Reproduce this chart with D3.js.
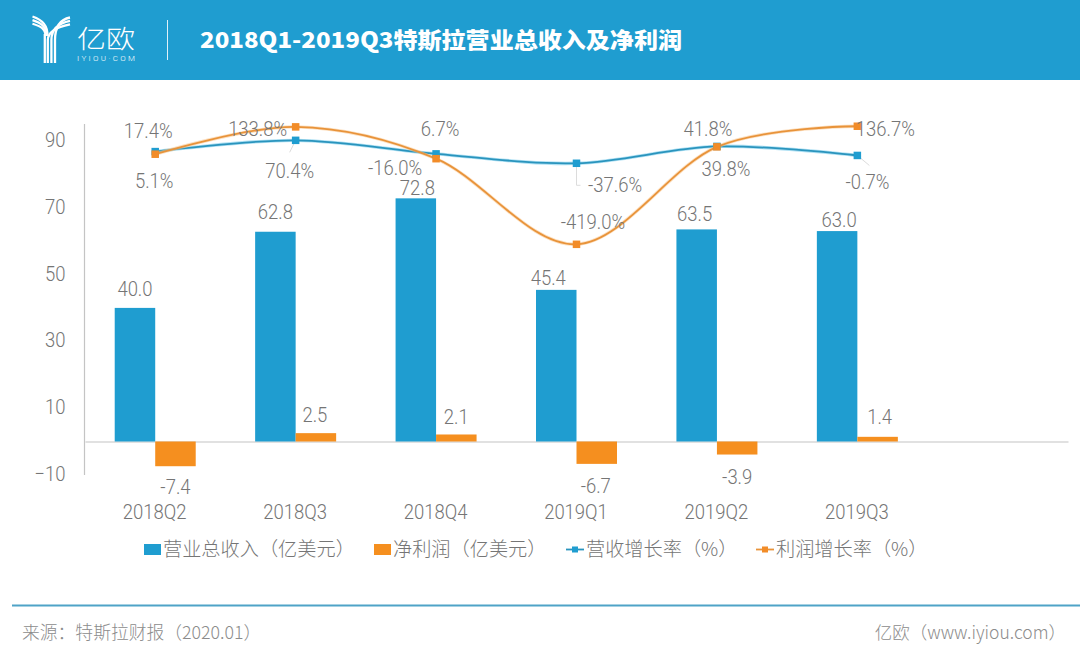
<!DOCTYPE html>
<html><head><meta charset="utf-8">
<script src="https://cdn.jsdelivr.net/npm/d3@7/dist/d3.min.js"></script>
<style>
html,body{margin:0;padding:0;background:#fff}
svg{display:block}
text{font-family:"Noto Sans CJK SC",sans-serif}
.cjk{font-family:"Noto Sans CJK SC",sans-serif;font-weight:300}
.num{font-family:Roboto,sans-serif;font-weight:300}
</style></head><body>
<svg id="c" width="1080" height="658"></svg>
<script>
const categories=["2018Q2","2018Q3","2018Q4","2019Q1","2019Q2","2019Q3"];
const revenue=[40.0,62.8,72.8,45.4,63.5,63.0];
const netProfit=[-7.4,2.5,2.1,-6.7,-3.9,1.4];
const revenueGrowth=[17.4,70.4,6.7,-37.6,41.8,-0.7];
const profitGrowth=[5.1,133.8,-16.0,-419.0,39.8,136.7];
const yTicks=[-10,10,30,50,70,90];
const seriesNames=["营业总收入（亿美元）","净利润（亿美元）","营收增长率（%）","利润增长率（%）"];
const titleText="2018Q1-2019Q3特斯拉营业总收入及净利润";
const sourceText="来源：特斯拉财报（2020.01）";
const creditText="亿欧（www.iyiou.com）";

const BLUE="#1f9dd0",ORANGE="#f58f1f",LINE_BLUE="#2a94bd",LINE_OR="#e8933a",GREY="#757575";
const svg=d3.select("#c");

// header
svg.append("rect").attr("width",1080).attr("height",80).attr("fill","#1f9dd0");
const logo=svg.append("g").attr("fill","none").attr("stroke","#fff").attr("stroke-width",2.3);
[0,1,2].forEach(k=>{
  const stemR=55-k*3.6, stemL=45.5+(2-k)*0.4;
  logo.append("path").attr("d",`M70 ${17.5+k*3.4} C${60-k} ${19.5+k*3.6} ${stemR} ${27+k*2} ${stemR} 40 L${stemR} 63`);
  logo.append("path").attr("d",`M32.5 ${16.5+k*3.6} C40 ${19+k*3.6} ${stemL+2-k} ${24+k*2} ${stemL+1-k*0.5} ${36}`);
});
logo.append("path").attr("d","M44.8 34 L44.8 63");
svg.append("text").attr("x",77).attr("y",48).attr("fill","#fff").attr("class","cjk").attr("font-size",25).attr("font-weight",100)
  .attr("textLength",58).attr("lengthAdjust","spacingAndGlyphs").text("亿欧");
svg.append("text").attr("x",77).attr("y",60.5).attr("fill","#fff").attr("class","num").attr("font-size",8).attr("textLength",58).text("IYIOU·COM");
svg.append("line").attr("x1",167.5).attr("x2",167.5).attr("y1",20).attr("y2",60).attr("stroke","#dff1f9").attr("stroke-width",1);
svg.append("text").attr("x",200).attr("y",48).attr("fill","#fff").attr("font-size",22).attr("font-weight",900)
  .attr("textLength",482).attr("lengthAdjust","spacingAndGlyphs").text(titleText);

// scales
const x=d3.scaleBand().domain([...categories,""]).range([85,1068]);
const y=d3.scaleLinear().domain([-10,90]).range([474.9,140.9]);
const y2=d3.scaleLinear().domain([-1500,200]).range([474,112.8]);
const bw=40.5;
const cx=c=>x(c)+x.bandwidth()/2;
const squeeze=.88, numSize=21;
const place=(sel,fx,fy)=>sel.attr("x",null).attr("y",null).attr("dy",null).attr("font-size",numSize)
  .attr("transform",(d,i)=>`translate(${fx(d,i)},${fy(d,i)}) scale(${squeeze},1)`);

// axes
const xg=svg.append("g").attr("transform",`translate(0,${y(0)})`).call(d3.axisBottom(x).tickSize(0).tickValues(categories));
xg.select(".domain").attr("stroke","#c4c4c4").attr("stroke-width",1.2);
xg.selectAll("g.tick").attr("transform",null);
place(xg.selectAll("text").attr("class","num").attr("fill",GREY).attr("text-anchor","middle"),d=>cx(d)-.5,()=>519-y(0));
const yg=svg.append("g").attr("transform","translate(85,0)").call(d3.axisLeft(y).tickValues(yTicks).tickSize(0));
yg.select(".domain").remove();
yg.selectAll("g.tick").attr("transform",null);
place(yg.selectAll("text").attr("class","num").attr("fill",GREY).attr("text-anchor","end"),()=>-19.5,d=>y(d)+6);
svg.append("line").attr("x1",84.5).attr("x2",84.5).attr("y1",124).attr("y2",y(-10)).attr("stroke","#c4c4c4").attr("stroke-width",1.2);

// bars
svg.append("g").selectAll("rect").data(categories).join("rect")
  .attr("x",c=>cx(c)-bw).attr("width",bw)
  .attr("y",(c,i)=>y(revenue[i])).attr("height",(c,i)=>y(0)-y(revenue[i])).attr("fill",BLUE);
svg.append("g").selectAll("rect").data(categories).join("rect")
  .attr("x",c=>cx(c)).attr("width",bw)
  .attr("y",(c,i)=>Math.min(y(0),y(netProfit[i]))).attr("height",(c,i)=>Math.abs(y(0)-y(netProfit[i]))).attr("fill",ORANGE);

// label offsets relative to marks
const revLabelDx=[0,0,1.5,-8,-2,2], revLabelDy=[-12,-13,-3,-5,-8,-4];
const npLabelDx=[0,-1,0,-1,0,2], npLabelDy=[28,-11,-10,29,29,-13];
const rgLabelDx=[-7,-6,4,38.5,-9,10], rgLabelDy=[-13.6,37.7,-18,28.7,-10.4,33.6];
const pgLabelDx=[-1,-38,-41,16.5,9,28], pgLabelDy=[34,9,16,-15,29,10];
const leaderTo=[null,[-6,12],null,[4,22],null,[12,10]];

function labels(arr,fx,fy,dx,dy,fmt){
  place(svg.append("g").selectAll("text").data(arr).join("text")
    .attr("class","num").attr("fill",GREY).attr("text-anchor","middle").text(fmt),
    (d,i)=>fx(i)+dx[i],(d,i)=>fy(d)+dy[i]);
}
labels(revenue,i=>cx(categories[i])-bw/2,y,revLabelDx,revLabelDy,d=>d.toFixed(1));
labels(netProfit,i=>cx(categories[i])+bw/2,y,npLabelDx,npLabelDy,d=>d.toFixed(1));

// leader lines
svg.append("g").selectAll("path").data(revenueGrowth).join("path")
  .attr("fill","none").attr("stroke","#dcdcdc").attr("stroke-width",1)
  .attr("d",(d,i)=>{const l=leaderTo[i];if(!l)return null;const a=cx(categories[i]),b=y2(d);
    return i===3?`M${a} ${b}V${b+l[1]}H${a+l[0]}`:`M${a} ${b}L${a+l[0]} ${b+l[1]}`;});

// lines
const line=d3.line().curve(d3.curveCardinal.tension(0)).x((d,i)=>cx(categories[i])).y(d=>y2(d));
function series(arr,col,halo){
  svg.append("path").attr("d",line(arr)).attr("fill","none").attr("stroke",halo).attr("stroke-width",3.4).attr("opacity",.55);
  svg.append("path").attr("d",line(arr)).attr("fill","none").attr("stroke",col).attr("stroke-width",1.8);
}
function markers(arr,col){
  svg.append("g").selectAll("rect").data(arr).join("rect").attr("width",7.5).attr("height",7.5)
    .attr("x",(d,i)=>cx(categories[i])-3.75).attr("y",d=>y2(d)-3.75).attr("fill",col);
}
series(revenueGrowth,LINE_BLUE,"#6cc7ea");
series(profitGrowth,LINE_OR,"#f9c48a");
markers(revenueGrowth,BLUE);
markers(profitGrowth,"#f28c28");
labels(revenueGrowth,i=>cx(categories[i]),y2,rgLabelDx,rgLabelDy,d=>d.toFixed(1)+"%");
labels(profitGrowth,i=>cx(categories[i]),y2,pgLabelDx,pgLabelDy,d=>d.toFixed(1)+"%");

// legend
const legX=[144,374,566,756];
const legG=svg.append("g");
seriesNames.forEach((n,i)=>{
  const lx=legX[i], ly=549.5;
  if(i<2){
    legG.append("rect").attr("x",lx).attr("y",ly-5.5).attr("width",17).attr("height",11).attr("fill",i?ORANGE:BLUE);
  }else{
    const col=i===2?LINE_BLUE:LINE_OR;
    legG.append("line").attr("x1",lx).attr("x2",lx+18).attr("y1",ly).attr("y2",ly).attr("stroke",col).attr("stroke-width",1.8);
    legG.append("rect").attr("x",lx+6).attr("y",ly-3).attr("width",6).attr("height",6).attr("fill",i===2?BLUE:"#f28c28");
  }
  legG.append("text").attr("x",lx+(i<2?19:20)).attr("y",ly+6.5).attr("class","cjk").attr("font-size",19.2).attr("fill",GREY).text(n);
});

// footer
svg.append("line").attr("x1",12).attr("x2",1080).attr("y1",605.5).attr("y2",605.5).attr("stroke","#4fa3c7").attr("stroke-width",2);
svg.append("text").attr("x",22).attr("y",639).attr("class","cjk").attr("font-size",17.8).attr("fill","#8c8c8c").text(sourceText);
svg.append("text").attr("x",1066).attr("y",639).attr("text-anchor","end").attr("class","cjk").attr("font-size",17.5).attr("fill","#8c8c8c").text(creditText);
</script>
</body></html>
